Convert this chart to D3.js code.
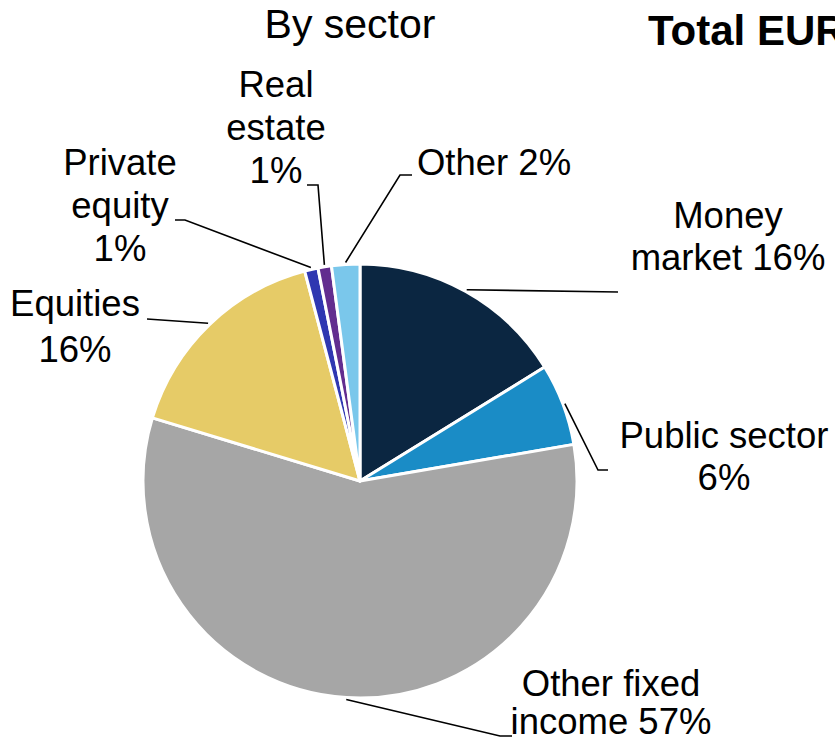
<!DOCTYPE html>
<html>
<head>
<meta charset="utf-8">
<script src="https://cdn.jsdelivr.net/npm/d3@7"></script>
<style>
  html, body { margin: 0; padding: 0; background: #fff; }
  svg { display: block; font-family: "Liberation Sans", Arial, sans-serif; }
</style>
</head>
<body>
<svg id="chart" width="835" height="743"></svg>
<script>
// Portfolio breakdown by sector (share of total, %)
const sectors = ["Money market", "Public sector", "Other fixed income", "Equities", "Private equity", "Real estate", "Other"];
const shares = [16.2, 6.1, 57.4, 16.2, 1.0, 1.0, 2.1];
const sectorColors = ["#0b2641", "#1a8cc6", "#a6a6a6", "#e6cb67", "#2f37b1", "#622d8f", "#7ac7eb"];
// Label text per slice; "{p}" is replaced by the rounded share
const labelLines = [
  ["Money", "market {p}"],
  ["Public sector", "{p}"],
  ["Other fixed", "income {p}"],
  ["Equities", "{p}"],
  ["Private", "equity", "{p}"],
  ["Real", "estate", "{p}"],
  ["Other {p}"]
];

// Placement of each data label: centre x, first baseline, line gap, and leader bend points
const labelLayout = [
  { x: 728, y: 228, gap: 42, bends: [[618, 292]] },
  { x: 724, y: 448, gap: 42, bends: [[598, 470], [608, 470]] },
  { x: 611, y: 696, gap: 38, bends: [[500, 736], [512, 736]] },
  { x: 75,  y: 316, gap: 46, bends: [[147, 319]] },
  { x: 120, y: 175, gap: 43, bends: [[185, 220], [175, 220]] },
  { x: 276, y: 97,  gap: 43, bends: [[318, 185], [307, 185]] },
  { x: 494, y: 175, gap: 43, bends: [[400, 175], [412, 175]] }
];

const svg = d3.select("#chart");
const cx = 360, cy = 481, radius = 217;

const pie = d3.pie().sort(null).value(d => d.value);
const arcs = pie(sectors.map((s, i) => ({ name: s, value: shares[i], color: sectorColors[i] })));
const arc = d3.arc().innerRadius(0).outerRadius(radius);

const g = svg.append("g").attr("transform", `translate(${cx},${cy})`);

g.selectAll("path.slice")
  .data(arcs)
  .join("path")
  .attr("class", "slice")
  .attr("d", arc)
  .attr("fill", d => d.data.color)
  .attr("stroke", "#fff")
  .attr("stroke-width", 3)
  .attr("stroke-linejoin", "round");

// Leader lines: start on the rim at the slice mid-angle, then run to the label
const rim = d3.arc().innerRadius(radius + 2).outerRadius(radius + 2);
const line = d3.line();
arcs.forEach((d, i) => {
  const [sx, sy] = rim.centroid(d);
  const pts = [[cx + sx, cy + sy]].concat(labelLayout[i].bends);
  svg.append("path")
    .attr("d", line(pts))
    .attr("fill", "none")
    .attr("stroke", "#000")
    .attr("stroke-width", 1.6);
});

// Data labels
arcs.forEach((d, i) => {
  const pct = Math.round(d.value) + "%";
  const L = labelLayout[i];
  const t = svg.append("text")
    .attr("text-anchor", "middle")
    .attr("font-size", 36.5)
    .attr("fill", "#000");
  labelLines[i].forEach((ln, j) => {
    t.append("tspan")
      .attr("x", L.x)
      .attr("y", L.y + j * L.gap)
      .text(ln.replace("{p}", pct));
  });
});

// Titles
svg.append("text")
  .attr("x", 350).attr("y", 38)
  .attr("text-anchor", "middle")
  .attr("font-size", 41)
  .attr("fill", "#000")
  .text("By sector");

svg.append("text")
  .attr("x", 648).attr("y", 45)
  .attr("font-size", 42)
  .attr("font-weight", "bold")
  .attr("fill", "#000")
  .text("Total EUR");
</script>
</body>
</html>
